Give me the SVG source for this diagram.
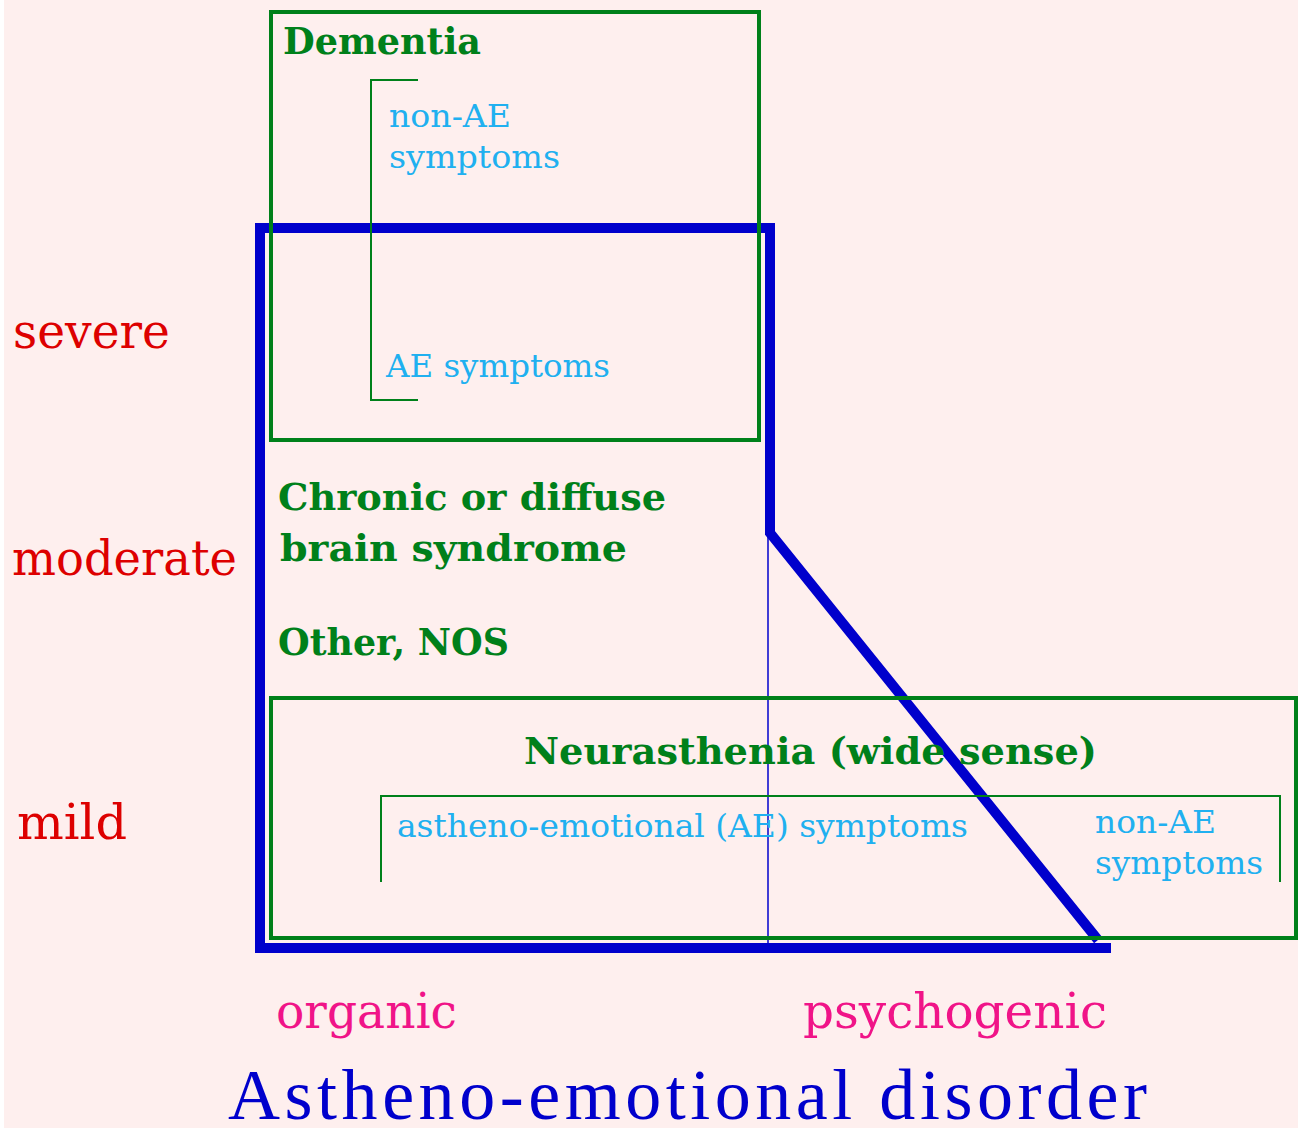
<svg xmlns="http://www.w3.org/2000/svg" width="1298" height="1128" viewBox="0 0 1298 1128">
<style>
.bg{fill:#FEEFEE}
.gbox{fill:none;stroke:#00801A;stroke-width:4}
.gthin{fill:none;stroke:#00801A;stroke-width:2}
.blue{fill:none;stroke:#0000CC;stroke-width:10;stroke-linejoin:miter}
.bthin{fill:none;stroke:#0000CC;stroke-width:1.5}
.gt{font-family:"DejaVu Serif",serif;font-weight:bold;font-size:37px;fill:#00801A}
.st{font-family:"DejaVu Serif",serif;font-size:32px;fill:#20B0F0}
.rt{font-family:"DejaVu Serif",serif;font-size:48px;fill:#DD0000}
.pt{font-family:"DejaVu Serif",serif;font-size:48px;fill:#F01488}
.tt{font-family:"Liberation Serif",serif;font-size:72px;fill:#0000CC}
</style>
<rect class="bg" x="0" y="0" width="1298" height="1128"/>
<rect x="0" y="0" width="4" height="1128" fill="#FFFFFF"/>

<g id="connectors">
<path class="blue" d="M1111 948 H260 V228 H770 V533 L1098 940"/>
<line class="bthin" x1="768" y1="533" x2="768" y2="945"/>
</g>

<g id="dementia">
<rect class="gbox" x="271" y="12" width="488" height="428"/>
<text class="gt" x="283" y="54" textLength="198" lengthAdjust="spacingAndGlyphs">Dementia</text>
<path class="gthin" d="M418 80 H371 V400 H418"/>
<text class="st" x="389" y="127" textLength="122" lengthAdjust="spacingAndGlyphs">non-AE</text>
<text class="st" x="389" y="168" textLength="171" lengthAdjust="spacingAndGlyphs">symptoms</text>
<text class="st" x="386" y="377" textLength="224" lengthAdjust="spacingAndGlyphs">AE symptoms</text>
</g>

<g id="chronic">
<text class="gt" x="278" y="510" textLength="388" lengthAdjust="spacingAndGlyphs">Chronic or diffuse</text>
<text class="gt" x="280" y="561" textLength="347" lengthAdjust="spacingAndGlyphs">brain syndrome</text>
</g>

<g id="other">
<text class="gt" x="278" y="655" textLength="231" lengthAdjust="spacingAndGlyphs">Other, NOS</text>
</g>

<g id="neurasthenia">
<rect class="gbox" x="271" y="698" width="1025" height="240"/>
<text class="gt" x="524" y="764" textLength="573" lengthAdjust="spacingAndGlyphs">Neurasthenia (wide sense)</text>
<path class="gthin" d="M381 882 V796 H1280 V882"/>
<text class="st" x="397" y="837" textLength="571" lengthAdjust="spacingAndGlyphs">astheno-emotional (AE) symptoms</text>
<text class="st" x="1095" y="833" textLength="121" lengthAdjust="spacingAndGlyphs">non-AE</text>
<text class="st" x="1095" y="874" textLength="168" lengthAdjust="spacingAndGlyphs">symptoms</text>
</g>

<g id="severity">
<text class="rt" x="13" y="348" textLength="157" lengthAdjust="spacingAndGlyphs">severe</text>
<text class="rt" x="12" y="575" textLength="225" lengthAdjust="spacingAndGlyphs">moderate</text>
<text class="rt" x="17" y="839" textLength="110" lengthAdjust="spacingAndGlyphs">mild</text>
</g>

<g id="axis">
<text class="pt" x="276" y="1028" textLength="181" lengthAdjust="spacingAndGlyphs">organic</text>
<text class="pt" x="803" y="1028" textLength="304" lengthAdjust="spacingAndGlyphs">psychogenic</text>
<text class="tt" x="228" y="1119" textLength="919" lengthAdjust="spacing">Astheno-emotional disorder</text>
</g>
</svg>
